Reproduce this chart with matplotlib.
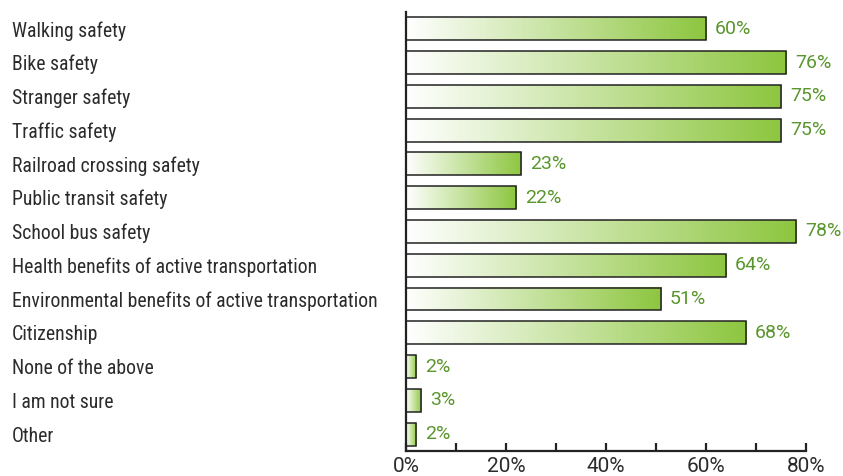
import matplotlib
matplotlib.use("Agg")
import matplotlib.pyplot as plt
import numpy as np
from matplotlib.colors import LinearSegmentedColormap
from matplotlib import font_manager

names = {f.name for f in font_manager.fontManager.ttflist}
fams = [f for f in ['Roboto Condensed', 'Liberation Sans Narrow', 'Roboto'] if f in names]
plt.rcParams['font.family'] = fams + ['DejaVu Sans']
WIDE = ['Roboto', 'DejaVu Sans']

categories = ["Walking safety", "Bike safety", "Stranger safety", "Traffic safety",
              "Railroad crossing safety", "Public transit safety", "School bus safety",
              "Health benefits of active transportation",
              "Environmental benefits of active transportation", "Citizenship",
              "None of the above", "I am not sure", "Other"]
values = [60, 76, 75, 75, 23, 22, 78, 64, 51, 68, 2, 3, 2]
xticks = [0, 10, 20, 30, 40, 50, 60, 70, 80]
xticklabels = ["0%", "", "20%", "", "40%", "", "60%", "", "80%"]

GREEN = '#8dc63f'
LABEL_GREEN = '#5a962e'
TEXT = '#2b2b2b'
cmap = LinearSegmentedColormap.from_list("grad", ["#ffffff", GREEN])
grad = np.linspace(0, 1, 256).reshape(1, -1)

fig = plt.figure(figsize=(8.43, 4.76), dpi=100)
ax = fig.add_axes([0.4816, 0.0525, 0.4745, 0.9225])

h = 0.68
for i, v in enumerate(values):
    ax.imshow(grad, cmap=cmap, extent=(0, v, i + h / 2, i - h / 2),
              aspect='auto', interpolation='bilinear', zorder=1)
    ax.barh(i, v, height=h, fill=False, edgecolor='#222222', linewidth=1.1, zorder=2)
    ax.annotate(f"{v}%", xy=(v, i), xytext=(6.5, 0), textcoords='offset points',
                va='center', ha='left', fontsize=14, color=LABEL_GREEN, family=WIDE)

ax.set_xlim(0, 80)
ax.set_ylim(len(values) - 0.5, -0.5)
ax.set_yticks(range(len(categories)))
ax.set_yticklabels(categories, fontsize=14.2, color=TEXT, ha='left')
ax.tick_params(axis='y', length=0, pad=284)
ax.set_xticks(xticks)
ax.set_xticklabels(xticklabels, fontsize=15, color=TEXT, family=WIDE)
ax.tick_params(axis='x', direction='in', length=6, width=1.6, color='#222222', pad=4)

for s in ['top', 'right']:
    ax.spines[s].set_visible(False)
for s in ['left', 'bottom']:
    ax.spines[s].set_linewidth(1.6)
    ax.spines[s].set_color('#222222')
ax.set_facecolor('none')

fig.savefig("out.png", dpi=100)
